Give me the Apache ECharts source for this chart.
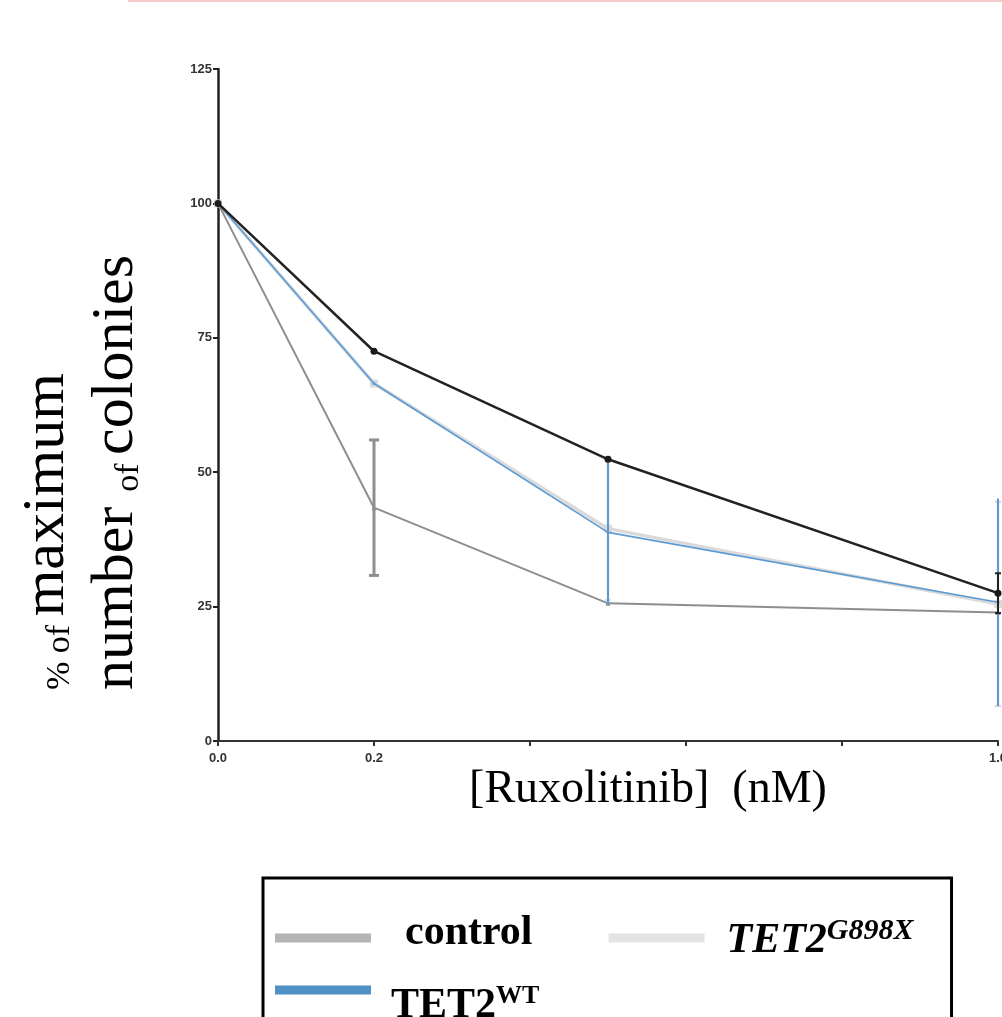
<!DOCTYPE html>
<html>
<head>
<meta charset="utf-8">
<script src="https://cdn.jsdelivr.net/npm/echarts@6/dist/echarts.min.js"></script>
<style>
  html, body { margin: 0; padding: 0; background: #fff; }
  #chart { width: 1002px; height: 1017px; }
</style>
</head>
<body>
<div id="chart"></div>
<script>
// doses (nM) on the x axis
var doses = [0, 0.2, 0.5, 1.0];
var xLabelsShown = ['0.0', '0.2', '1.0'];
var yTicks = [0, 25, 50, 75, 100, 125];

// % of maximum colonies, mean and error (half width)
var controlMean = [100, 43.4, 25.6, 23.9];
var controlErr  = [0, 12.6, 0, 0];
var g898xMean   = [100, 66.5, 39.5, 25.5];
var g898xErr    = [0, 0, 13.3, 19];
var wtMean      = [100, 66.5, 38.8, 25.8];
var wtErr       = [0, 0, 13.5, 19.3];
var blackMean   = [100, 72.5, 52.4, 27.5];
var blackErr    = [0, 0, 0, 3.7];

function pts(mean) {
	return doses.map(function(d, i) { return [d, mean[i]]; });
}
function errData(mean, err) {
	var out = [];
	for (var i = 0; i < doses.length; i++) {
		if (err[i] > 0) out.push([doses[i], mean[i] - err[i], mean[i] + err[i]]);
	}
	return out;
}
function errSeries(name, mean, err, color, width, cap, z) {
	return {
		name: name,
		type: 'custom',
		z: z,
		silent: true,
		data: errData(mean, err),
		renderItem: function(params, api) {
			var top = api.coord([api.value(0), api.value(2)]);
			var bot = api.coord([api.value(0), api.value(1)]);
			var st = { stroke: color, lineWidth: width };
			return {
				type: 'group',
				children: [
					{ type: 'line', shape: { x1: top[0], y1: top[1], x2: bot[0], y2: bot[1] }, style: st },
					{ type: 'line', shape: { x1: top[0] - cap, y1: top[1], x2: top[0] + cap, y2: top[1] }, style: st },
					{ type: 'line', shape: { x1: bot[0] - cap, y1: bot[1], x2: bot[0] + cap, y2: bot[1] }, style: st }
				]
			};
		}
	};
}

var serif = 'Liberation Serif';

var option = {
	animation: false,
	backgroundColor: '#fff',
	grid: { left: 218, right: 4, top: 69, bottom: 276, containLabel: false, outerBoundsMode: 'none' },
	xAxis: {
		type: 'value',
		min: 0, max: 1, interval: 0.2,
		splitLine: { show: false },
		axisLine: { lineStyle: { color: '#333', width: 2 } },
		axisTick: { length: 5, lineStyle: { color: '#333', width: 2 } },
		axisLabel: {
			margin: 11,
			color: '#333',
			fontFamily: 'Liberation Sans',
			fontWeight: 'bold',
			fontSize: 13,
			formatter: function(v) {
				var s = v.toFixed(1);
				return xLabelsShown.indexOf(s) >= 0 ? s : '';
			}
		}
	},
	yAxis: {
		type: 'value',
		min: yTicks[0], max: yTicks[yTicks.length - 1], interval: 25,
		splitLine: { show: false },
		axisLine: { show: true, lineStyle: { color: '#222', width: 2.5 } },
		axisTick: { show: true, length: 5, lineStyle: { color: '#222', width: 2 } },
		axisLabel: {
			margin: 6,
			color: '#333',
			fontFamily: 'Liberation Sans',
			fontWeight: 'bold',
			fontSize: 13
		}
	},
	legend: {
		data: [
			{ name: 'control', icon: 'rect', itemStyle: { color: '#b4b4b4' } },
			{ name: 'TET2G898X', icon: 'rect', itemStyle: { color: '#e3e3e3' } },
			{ name: 'TET2WT', icon: 'rect', itemStyle: { color: '#4f90c6' } }
		],
		left: 263, top: 878,
		width: 680,
		orient: 'horizontal',
		padding: [34, 38, 60, 12],
		borderColor: '#000',
		borderWidth: 3,
		itemWidth: 96,
		itemHeight: 9,
		itemGap: 0,
		selectedMode: false,
		formatter: function(name) {
			if (name == 'control') return '{c|control}';
			if (name == 'TET2G898X') return '{gi|TET2}{gs|G898X}';
			return '{w|TET2}{ws|WT}';
		},
		textStyle: {
			color: '#000',
			rich: {
				c: { fontFamily: serif, fontWeight: 'bold', fontSize: 42, lineHeight: 44, padding: [0, 76, 10, 29], color: '#000' },
				gi: { fontFamily: serif, fontWeight: 'bold', fontStyle: 'italic', fontSize: 42, lineHeight: 44, padding: [6, 0, 0, 17], color: '#000' },
				gs: { fontFamily: serif, fontWeight: 'bold', fontStyle: 'italic', fontSize: 30, lineHeight: 30, verticalAlign: 'top', color: '#000' },
				w: { fontFamily: serif, fontWeight: 'bold', fontSize: 42, lineHeight: 44, padding: [32, 0, 0, 15], color: '#000' },
				ws: { fontFamily: serif, fontWeight: 'bold', fontSize: 26, lineHeight: 36, padding: [15, 0, 0, 0], verticalAlign: 'top', color: '#000' }
			}
		}
	},
	graphic: [
		{ type: 'line', shape: { x1: 128, y1: 1, x2: 1002, y2: 1 }, style: { stroke: '#f6caca', lineWidth: 2 } },
		{
			type: 'text', x: 47, y: 690, rotation: Math.PI / 2,
			style: {
				text: '{s|% of }{b|maximum}',
				align: 'left', verticalAlign: 'middle',
				rich: {
					s: { fontFamily: serif, fontSize: 34, lineHeight: 42, verticalAlign: 'bottom', fill: '#000' },
					b: { fontFamily: serif, fontSize: 60, lineHeight: 60, verticalAlign: 'bottom', fill: '#000' }
				}
			}
		},
		{
			type: 'text', x: 116, y: 690, rotation: Math.PI / 2,
			style: {
				text: '{b|number }{s|of }{b|colonies}',
				align: 'left', verticalAlign: 'middle',
				rich: {
					s: { fontFamily: serif, fontSize: 34, lineHeight: 42, verticalAlign: 'bottom', fill: '#000' },
					b: { fontFamily: serif, fontSize: 60, lineHeight: 60, verticalAlign: 'bottom', fill: '#000' }
				}
			}
		},
		{
			type: 'text', x: 648, y: 790,
			style: {
				text: '[Ruxolitinib]  (nM)',
				font: '46px "Liberation Serif"',
				align: 'center', verticalAlign: 'middle',
				fill: '#000'
			}
		}
	],
	series: [
		{
			name: 'TET2G898X', type: 'line', z: 2,
			data: pts(g898xMean),
			symbol: 'rect', symbolSize: 8,
			itemStyle: { color: '#dadada' },
			lineStyle: { color: '#dadada', width: 3.5 }
		},
		errSeries('TET2G898X', g898xMean, g898xErr, '#dadada', 2.5, 3, 2),
		{
			name: 'control', type: 'line', z: 3,
			data: pts(controlMean),
			symbol: 'triangle', symbolSize: 5,
			itemStyle: { color: '#8e8e8e' },
			lineStyle: { color: '#8e8e8e', width: 2 }
		},
		errSeries('control', controlMean, controlErr, '#8e8e8e', 3, 5, 3),
		{
			name: 'TET2WT', type: 'line', z: 4,
			data: pts(wtMean),
			symbol: 'circle', symbolSize: 3,
			itemStyle: { color: '#5b9bd5' },
			lineStyle: { color: '#5b9bd5', width: 1.6 }
		},
		errSeries('TET2WT', wtMean, wtErr, '#5b9bd5', 2, 0, 4),
		{
			name: 'other', type: 'line', z: 5,
			data: pts(blackMean),
			symbol: 'circle', symbolSize: 7,
			itemStyle: { color: '#1a1a1a' },
			lineStyle: { color: '#222', width: 2.5 }
		},
		errSeries('other', blackMean, blackErr, '#222', 2, 3, 5)
	]
};

var myChart = echarts.init(document.getElementById('chart'));
myChart.setOption(option);
</script>
</body>
</html>
